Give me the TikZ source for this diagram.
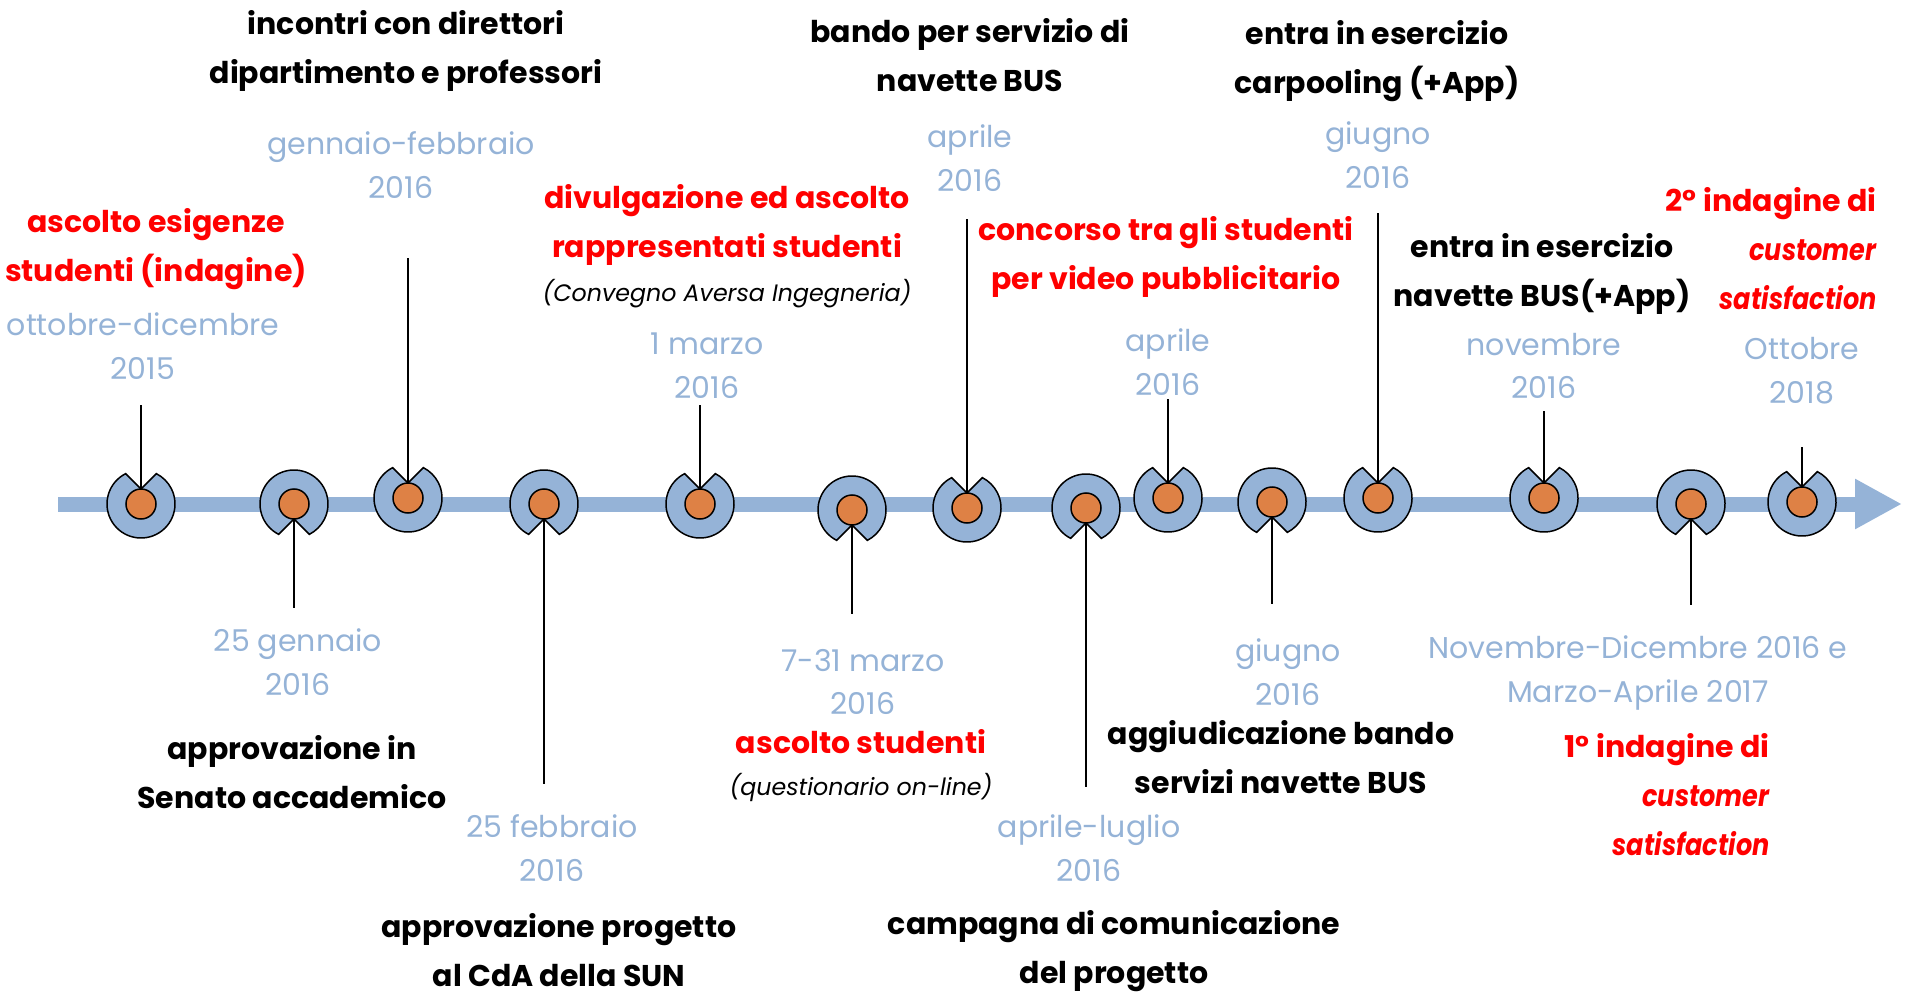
\documentclass[tikz,border=0pt]{standalone}
\usepackage{fontspec}
\setmainfont{Poppins}
\usepackage{tikz}
\usepackage{xcolor}
\usetikzlibrary{arrows.meta}
\definecolor{axis-blue}{HTML}{95B3D7}
\definecolor{dot-orange}{HTML}{DE8145}
\newcommand{\narrowit}[1]{{\itshape\addfontfeatures{FakeStretch=0.85}#1}}
\tikzset{
    date-text/.style = {text=axis-blue, align=center, font=\fontsize{12}{17.5}\selectfont},
    event-text/.style = {text=black, align=center, font=\bfseries\fontsize{12}{19.6}\selectfont},
    event-red/.style = {event-text, text=red},
    survey-red/.style = {event-red, align=right, anchor=east, inner xsep=0pt},
    note-text/.style = {text=black, align=center, font=\itshape\fontsize{9.5}{12}\selectfont},
    dot/.style = {circle, draw=black, line width=0.6pt, fill=dot-orange, minimum size=12pt, inner sep=0pt},
    stem/.style = {draw=black, line width=1pt},
    ring-down/.pic = {\path[fill=axis-blue, draw=black, line width=0.6pt] (0,15) -- (116.8:34) arc[start angle=116.8, end angle=423.2, radius=34] -- cycle;},
    ring-up/.pic = {\path[fill=axis-blue, draw=black, line width=0.6pt] (0,-15) -- (-116.8:34) arc[start angle=-116.8, end angle=-423.2, radius=34] -- cycle;},
}

\begin{document}
\begin{tikzpicture}[x=0.4pt, y=-0.4pt]
\useasboundingbox (0,0) rectangle (1905,992);

% time axis
\coordinate (axis-start) at (58,504);
\coordinate (axis-end) at (1902,504);
\draw[axis-blue, line width=6pt, -{Triangle[length=18.8pt, width=18.8pt]}] (axis-start) -- (axis-end);

% markers
\pic at (141,504) {ring-up};
\pic at (294,504) {ring-down};
\pic at (408,498) {ring-up};
\pic at (544,504) {ring-down};
\pic at (700,504) {ring-up};
\pic at (852,510) {ring-down};
\pic at (967,508) {ring-up};
\pic at (1086,508) {ring-down};
\pic at (1168,498) {ring-up};
\pic at (1272,502) {ring-down};
\pic at (1378,498) {ring-up};
\pic at (1544,498) {ring-up};
\pic at (1691,504) {ring-down};
\pic at (1802,502) {ring-up};

\node[dot] (m1) at (141,504) {};
\node[dot] (m2) at (294,504) {};
\node[dot] (m3) at (408,498) {};
\node[dot] (m4) at (544,504) {};
\node[dot] (m5) at (700,504) {};
\node[dot] (m6) at (852,510) {};
\node[dot] (m7) at (967,508) {};
\node[dot] (m8) at (1086,508) {};
\node[dot] (m9) at (1168,498) {};
\node[dot] (m10) at (1272,502) {};
\node[dot] (m11) at (1378,498) {};
\node[dot] (m12) at (1544,498) {};
\node[dot] (m13) at (1691,504) {};
\node[dot] (m14) at (1802,502) {};

% stems
\coordinate (s1) at (141,405);
\coordinate (s2) at (294,608);
\coordinate (s3) at (408,258);
\coordinate (s4) at (544,784);
\coordinate (s5) at (700,405);
\coordinate (s6) at (852,614);
\coordinate (s7) at (967,219);
\coordinate (s8) at (1086,787);
\coordinate (s9) at (1168,399);
\coordinate (s10) at (1272,604);
\coordinate (s11) at (1378,213);
\coordinate (s12) at (1544,411);
\coordinate (s13) at (1691,605);
\coordinate (s14) at (1802,447);
\draw[stem] (m1.north) -- (s1);
\draw[stem] (m2.south) -- (s2);
\draw[stem] (m3.north) -- (s3);
\draw[stem] (m4.south) -- (s4);
\draw[stem] (m5.north) -- (s5);
\draw[stem] (m6.south) -- (s6);
\draw[stem] (m7.north) -- (s7);
\draw[stem] (m8.south) -- (s8);
\draw[stem] (m9.north) -- (s9);
\draw[stem] (m10.south) -- (s10);
\draw[stem] (m11.north) -- (s11);
\draw[stem] (m12.north) -- (s12);
\draw[stem] (m13.south) -- (s13);
\draw[stem] (m14.north) -- (s14);

% labels above the axis
\node[event-red] (e1) at (156,249) {ascolto esigenze\\studenti (indagine)};
\node[date-text] (d1) at (143,346) {ottobre-dicembre\\2015};
\node[event-text] (e3) at (406,51) {incontri con direttori\\dipartimento e professori};
\node[date-text] (d3) at (401,165) {gennaio-febbraio\\2016};
\node[event-red] (e5) at (727,225) {divulgazione ed ascolto\\rappresentati studenti};
\node[note-text] (n5) at (727,294) {(Convegno Aversa Ingegneria)};
\node[date-text] (d5) at (707,366) {1 marzo\\2016};
\node[event-text] (e7) at (970,55) {bando per servizio di\\navette BUS};
\node[date-text] (d7) at (970,158) {aprile\\2016};
\node[event-red] (e9) at (1166,257) {concorso tra gli studenti\\per video pubblicitario};
\node[date-text] (d9) at (1168,362) {aprile\\2016};
\node[event-text] (e11) at (1377,61) {entra in esercizio\\carpooling (+App)};
\node[date-text] (d11) at (1378,155) {giugno\\2016};
\node[event-text] (e12) at (1542,274) {entra in esercizio\\navette BUS(+App)};
\node[date-text] (d12) at (1544,366) {novembre\\2016};
\node[survey-red] (e14) at (1877,249) {2° indagine di\\\narrowit{customer}\\\narrowit{satisfaction}};
\node[date-text] (d14) at (1802,371) {Ottobre\\2018};

% labels below the axis
\node[date-text] (d2) at (298,662) {25 gennaio\\2016};
\node[event-text] (e2) at (292,772) {approvazione in\\Senato accademico};
\node[date-text] (d4) at (552,848) {25 febbraio\\2016};
\node[event-text] (e4) at (559,950) {approvazione progetto\\al CdA della SUN};
\node[date-text] (d6) at (863,682) {7-31 marzo\\2016};
\node[event-red] (e6) at (861,742) {ascolto studenti};
\node[note-text] (n6) at (861,787) {(questionario on-line)};
\node[date-text] (d8) at (1089,848) {aprile-luglio\\2016};
\node[event-text] (e8) at (1114,951) {campagna di comunicazione\\del progetto};
\node[date-text] (d10) at (1288,672) {giugno\\2016};
\node[event-text] (e10) at (1281,757) {aggiudicazione bando\\servizi navette BUS};
\node[date-text] (d13) at (1638,673) {Novembre-Dicembre 2016 e\\Marzo-Aprile 2017};
\node[survey-red] (e13) at (1770,795) {1° indagine di\\\narrowit{customer}\\\narrowit{satisfaction}};
\end{tikzpicture}
\end{document}
